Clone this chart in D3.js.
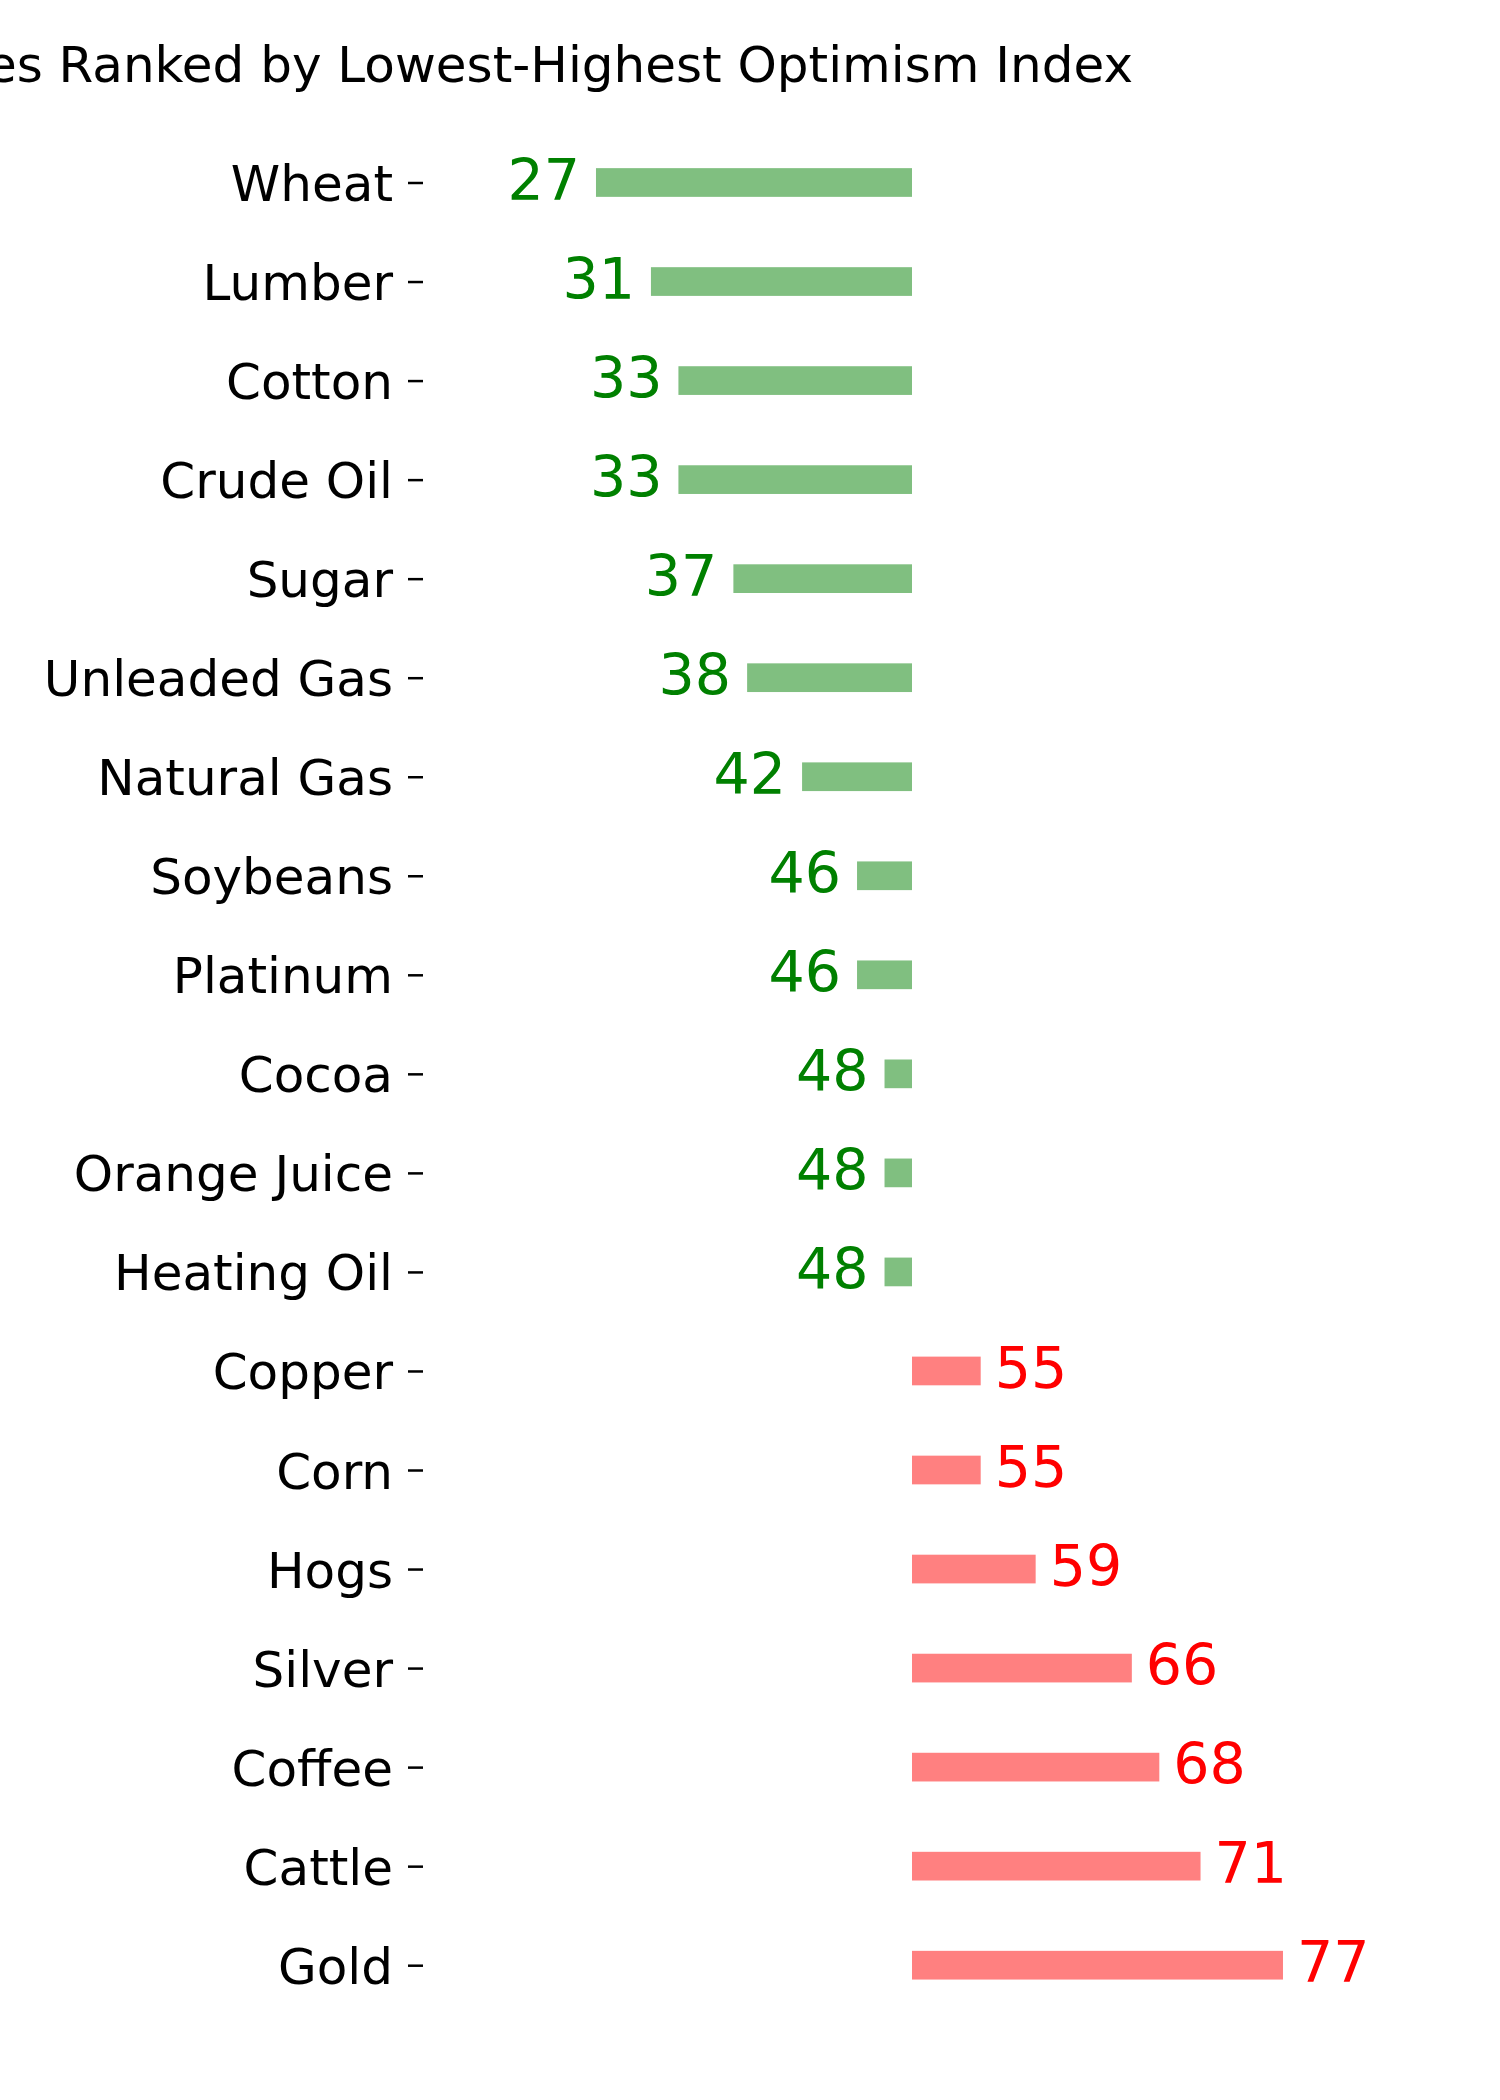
<!DOCTYPE html>
<html>
<head>
<meta charset="utf-8">
<script src="https://cdn.jsdelivr.net/npm/d3@7"></script>
<style>
  body { margin: 0; background: #fff; }
  svg { display: block; font-family: "DejaVu Sans", sans-serif; }
</style>
</head>
<body>
<svg id="chart"></svg>
<script>
const commodities = ["Wheat", "Lumber", "Cotton", "Crude Oil", "Sugar", "Unleaded Gas", "Natural Gas",
  "Soybeans", "Platinum", "Cocoa", "Orange Juice", "Heating Oil", "Copper", "Corn", "Hogs",
  "Silver", "Coffee", "Cattle", "Gold"];
const optimism = [27, 31, 33, 33, 37, 38, 42, 46, 46, 48, 48, 48, 55, 55, 59, 66, 68, 71, 77];
const titleText = "Commodities Ranked by Lowest-Highest Optimism Index";

const width = 1500, height = 2100;
const midpoint = 50;

const data = commodities.map((name, i) => ({ name, value: optimism[i] }));

const svg = d3.select("#chart")
  .attr("width", width)
  .attr("height", height)
  .attr("viewBox", [0, 0, width, height]);

// bars grow from the neutral 50 line
const x = d3.scaleLinear()
  .domain([0, 100])
  .range([225, 1599]);

const y = d3.scalePoint()
  .domain(commodities)
  .range([182.5, 1965.2]);

const barH = 28.7;

svg.append("g")
  .selectAll("rect")
  .data(data)
  .join("rect")
    .attr("x", d => x(Math.min(d.value, midpoint)))
    .attr("y", d => y(d.name) - barH / 2)
    .attr("width", d => Math.abs(x(d.value) - x(midpoint)))
    .attr("height", barH)
    .attr("fill", d => d.value < midpoint ? "#80bf80" : "#ff8080");

// value labels
svg.append("g")
  .style("font-size", "57px")
  .selectAll("text")
  .data(data)
  .join("text")
    .attr("x", d => d.value < midpoint ? x(d.value) - 16 : x(d.value) + 14)
    .attr("y", d => y(d.name))
    .attr("dy", "0.3em")
    .attr("text-anchor", d => d.value < midpoint ? "end" : "start")
    .attr("fill", d => d.value < midpoint ? "#008000" : "#ff0000")
    .text(d => d.value);

// category axis
const yAxis = svg.append("g")
  .attr("transform", "translate(423,0)")
  .call(d3.axisLeft(y).tickSize(15).tickPadding(15));

yAxis.select(".domain").remove();
yAxis.selectAll(".tick line").attr("stroke", "#000").attr("stroke-width", 2.5);
yAxis.selectAll(".tick text")
  .attr("fill", "#000")
  .attr("font-family", "DejaVu Sans")
  .attr("font-size", 50)
  .attr("dy", "0.36em");

svg.append("text")
  .attr("x", 1133)
  .attr("y", 82)
  .attr("text-anchor", "end")
  .style("font-size", "50px")
  .text(titleText);
</script>
</body>
</html>
